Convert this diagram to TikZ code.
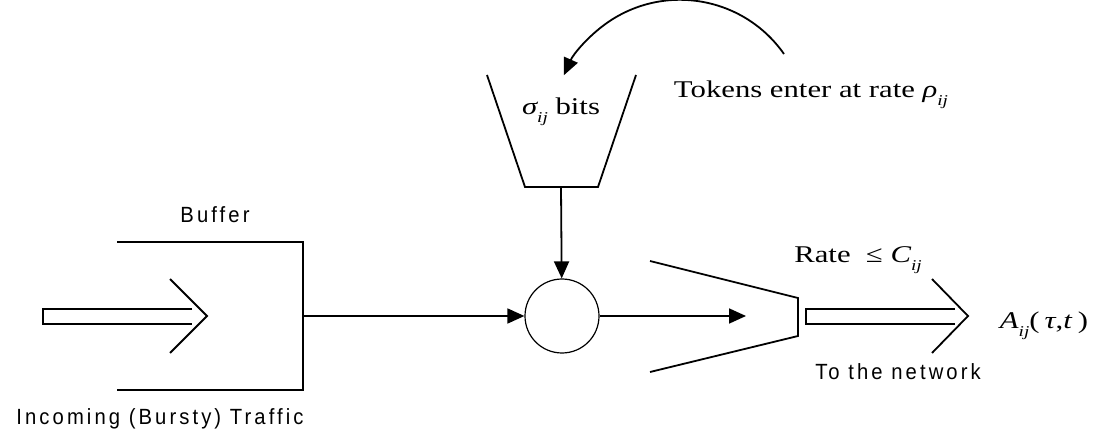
\documentclass[tikz,border=0pt]{standalone}
\usepackage{fontspec}
\usetikzlibrary{arrows.meta}
\newfontfamily\labelserif[FakeStretch=1.28]{Liberation Serif}
\newfontfamily\labelsans[FakeStretch=0.92,LetterSpace=14]{Liberation Sans}
% small lowered italic index
\newcommand\idx[1]{\raisebox{-0.3em}{\fontsize{15}{15}\selectfont\itshape #1}}

\begin{document}
\begin{tikzpicture}[x=1pt,y=1pt,
  line/.style={line width=1.8pt},
  arr/.style={line width=1.8pt,-{Triangle[length=17pt,width=15pt]}},
  serif/.style={font=\fontsize{24}{28}\selectfont\labelserif, inner sep=0pt, anchor=base},
  sans/.style={font=\fontsize{22}{26}\selectfont\labelsans, inner sep=0pt, anchor=base}]
\useasboundingbox (0,0) rectangle (1104,437);

% buffer
\draw[line] (117,195) -- (303,195) -- (303,47) -- (117,47);
\coordinate (bufout) at (303,121);
\node[sans] (buflbl) at (215,214) {Buffer};
\node[sans] (inlbl) at (160,13) {Incoming (Bursty) Traffic};

% incoming wide arrow
\draw[line] (192,128) -- (43,128) -- (43,113) -- (192,113);
\draw[line] (170,158) -- (207,121) -- (170,84);

% token bucket
\draw[line] (487,362) -- (525,250) -- (598,250) -- (636,362);
\coordinate (bktout) at (561,250);
\node[serif] (bktlbl) at (561,322) {{\itshape σ}\idx{ij}\ bits};

% tokens arriving
\coordinate (tokin) at (784,383);
\draw[arr] (tokin) arc[start angle=35, end angle=156, radius=127];
\node[serif] (toklbl) at (811,339) {Tokens enter at rate {\itshape ρ}\idx{ij}};

% mixing point
\node[draw, circle, line width=1.2pt, minimum size=74pt, inner sep=0pt] (mix) at (562,121) {};
\draw[arr] (bufout) -- (mix);
\draw[arr] (bktout) -- (mix);

% output funnel
\draw[line] (650,176) -- (798,139) -- (798,101) -- (650,65);
\coordinate (funin) at (746,121);
\draw[arr] (mix) -- (funin);

% outgoing wide arrow
\draw[line] (955,128) -- (806,128) -- (806,113) -- (955,113);
\draw[line] (932,158) -- (968,121) -- (932,84);
\node[serif] (ratelbl) at (858,174) {Rate \ ≤ {\itshape C}\idx{ij}};
\node[serif] (outlbl) at (1044,108) {{\itshape A}\idx{ij}(\hspace{5pt}{\itshape τ},{\itshape t}\hspace{6pt})};
\node[sans] (netlbl) at (898,58) {To the network};
\end{tikzpicture}
\end{document}
